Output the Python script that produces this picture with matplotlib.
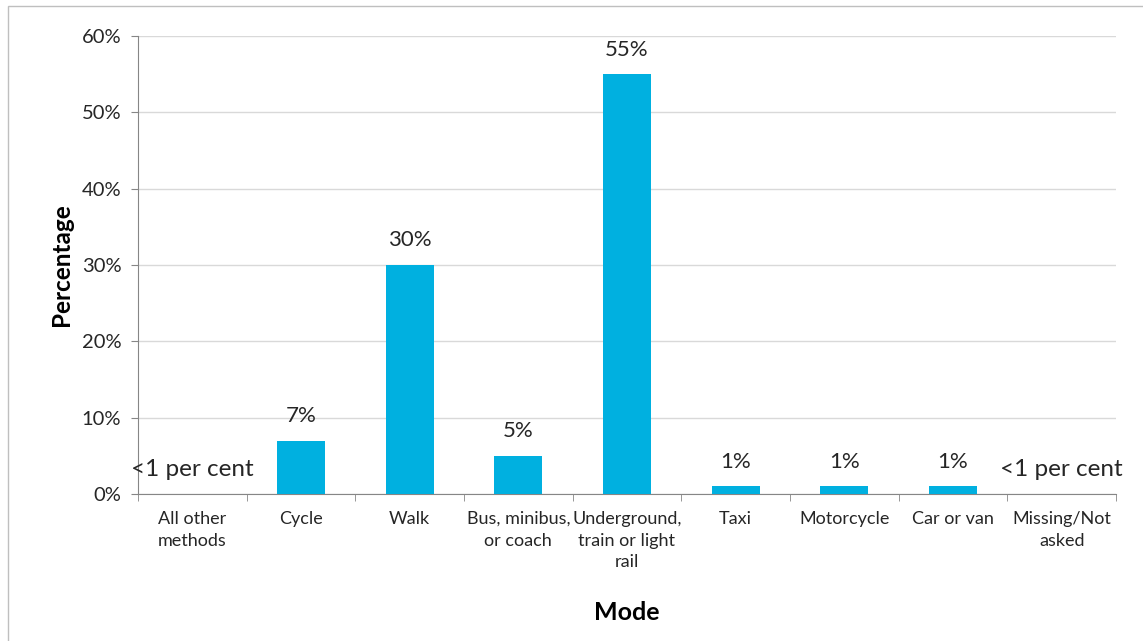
import matplotlib.pyplot as plt
import numpy as np
from matplotlib.patches import Rectangle
from matplotlib.ticker import FuncFormatter, MultipleLocator

plt.rcParams['font.family'] = ['Lato', 'DejaVu Sans']

modes = ['All other\nmethods', 'Cycle', 'Walk', 'Bus, minibus,\nor coach',
         'Underground,\ntrain or light\nrail', 'Taxi', 'Motorcycle',
         'Car or van', 'Missing/Not\nasked']
values = [0, 7, 30, 5, 55, 1, 1, 1, 0]
labels = ['<1 per cent', '7%', '30%', '5%', '55%', '1%', '1%', '1%', '<1 per cent']

fig = plt.figure(figsize=(11.43, 6.41), dpi=100)
ax = fig.add_axes([138 / 1143, 1 - 494 / 641, (1116 - 138) / 1143, (494 - 36) / 641])

# outer chart border
fig.patches.append(Rectangle((8 / 1143, -0.01), 1.02, 1 - 6 / 641 + 0.01,
                             transform=fig.transFigure, fill=False,
                             edgecolor='#bfbfbf', linewidth=1))

x = np.arange(len(modes))
ax.bar(x, values, width=0.44, color='#00b0e0', zorder=3)

for xi, v, lab in zip(x, values, labels):
    if v == 0:
        ax.text(xi, 1.8, lab, ha='center', va='bottom', fontsize=17.5, color='#262626')
    else:
        ax.text(xi, v + 1.9, lab, ha='center', va='bottom', fontsize=16, color='#262626')

ax.set_xlim(-0.5, len(modes) - 0.5)
ax.set_ylim(0, 60)
ax.yaxis.set_major_locator(MultipleLocator(10))
ax.yaxis.set_major_formatter(FuncFormatter(lambda v, p: f'{v:.0f}%'))
ax.grid(axis='y', color='#d9d9d9', linewidth=1, zorder=0)

ax.set_xticks(x)
ax.set_xticklabels(modes, fontsize=13, color='#262626', linespacing=1.45)
ax.tick_params(axis='x', length=0, pad=12)
ax.set_xticks(np.arange(-0.5, len(modes)), minor=True)
ax.tick_params(axis='x', which='minor', length=5, color='#868686')
ax.tick_params(axis='y', length=5, color='#868686', labelsize=14.5,
               labelcolor='#262626', pad=7)

for s in ['top', 'right']:
    ax.spines[s].set_visible(False)
for s in ['left', 'bottom']:
    ax.spines[s].set_color('#868686')

ax.set_ylabel('Percentage', fontsize=17.5, fontweight='bold', labelpad=6)
ax.set_xlabel('Mode', fontsize=18, fontweight='bold', labelpad=22)

fig.savefig('out.png', dpi=100)
